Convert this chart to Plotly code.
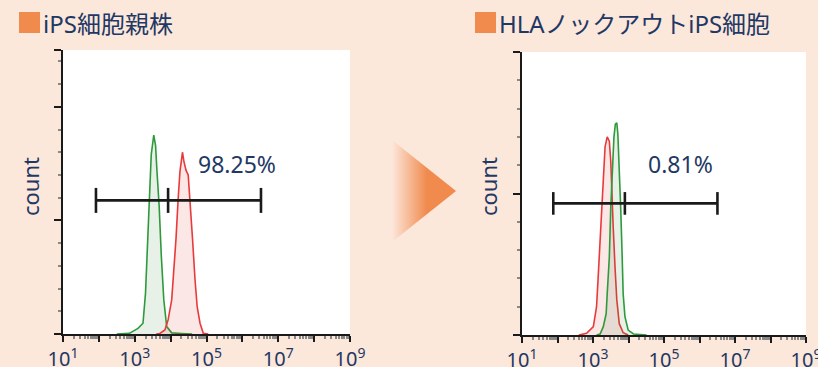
import plotly.graph_objects as go

# --- data (x as log10 of intensity, y as count) ---
left_green_log = [2.50, 2.85, 3.09, 3.23, 3.30, 3.32, 3.37, 3.42, 3.46, 3.53, 3.58, 3.62, 3.68, 3.74, 3.81, 3.89, 4.03, 4.30, 4.60]
left_green_cnt = [0.0, 0.6, 5.0, 9.5, 36, 51, 84, 128, 158, 175, 166, 143, 113, 69, 30, 6.5, 1.0, 0.5, 0.0]
left_red_log = [3.60, 3.70, 3.84, 3.93, 4.03, 4.09, 4.15, 4.21, 4.26, 4.31, 4.33, 4.37, 4.43, 4.49, 4.54, 4.61, 4.68, 4.74, 4.82, 4.91, 5.05]
left_red_cnt = [0.0, 0.5, 3.6, 12.4, 30, 54, 84, 119, 143, 155, 160, 152, 144, 140, 119, 84, 48, 24, 9.5, 0.6, 0.0]

right_red_log = [2.60, 2.82, 3.01, 3.10, 3.15, 3.20, 3.25, 3.29, 3.34, 3.40, 3.46, 3.50, 3.54, 3.57, 3.62, 3.67, 3.74, 3.85, 3.99]
right_red_cnt = [0.0, 1.2, 5.9, 20, 43, 67, 95, 118, 133, 140, 137, 123, 102, 76, 48, 25, 8, 1.6, 0.0]
right_green_log = [3.10, 3.20, 3.29, 3.37, 3.40, 3.46, 3.50, 3.55, 3.59, 3.63, 3.67, 3.70, 3.74, 3.78, 3.82, 3.85, 3.90, 3.99, 4.14, 4.51]
right_green_cnt = [0.0, 0.6, 5.9, 15, 29, 55, 90, 118, 140, 149, 150, 142, 118, 90, 57, 29, 13, 3.5, 0.7, 0.0]

# gate: left end, split, right end (intensity), bar level, cap half height
left_gate_x = [83, 8500, 3.3e6]
left_gate_y = 117.6
left_gate_cap = 11
left_pct = "98.25%"
right_gate_x = [76, 7900, 3.2e6]
right_gate_y = 93
right_gate_cap = 8
right_pct = "0.81%"

titles = ["iPS細胞親株", "HLAノックアウトiPS細胞"]
tick_vals = [10 ** k for k in range(1, 10)]
tick_text = ["10<sup>%d</sup>" % k if k % 2 else "" for k in range(1, 10)]
minor_vals = [m * 10 ** k for k in range(1, 9) for m in range(2, 10)]

NAVY = "#1f3864"
ORANGE = "#f08a4d"
BG = "#fce7db"
GREEN = "#2e9a3c"
RED = "#e83a3a"
FONT = "Noto Sans, Noto Sans CJK JP, sans-serif"

fig = go.Figure()


def hist(xlog, cnt, color, fill, xa, ya):
    fig.add_trace(go.Scatter(
        x=[10 ** v for v in xlog], y=cnt, mode="lines",
        line=dict(color=color, width=1.6), fill="tozeroy", fillcolor=fill,
        xaxis=xa, yaxis=ya, showlegend=False, hoverinfo="skip"))


def gate(gx, gy, cap, xa, ya):
    xs, ys = [gx[0], gx[2], None], [gy, gy, None]
    for x in gx:
        xs += [x, x, None]
        ys += [gy - cap, gy + cap, None]
    fig.add_trace(go.Scatter(
        x=xs, y=ys, mode="lines", line=dict(color="#1a1a1a", width=2.6),
        xaxis=xa, yaxis=ya, showlegend=False, hoverinfo="skip"))


hist(left_green_log, left_green_cnt, GREEN, "rgba(46,130,50,0.11)", "x", "y")
hist(left_red_log, left_red_cnt, RED, "rgba(232,58,58,0.12)", "x", "y")
gate(left_gate_x, left_gate_y, left_gate_cap, "x", "y")

hist(right_red_log, right_red_cnt, RED, "rgba(232,58,58,0.12)", "x2", "y2")
hist(right_green_log, right_green_cnt, GREEN, "rgba(46,130,50,0.11)", "x2", "y2")
gate(right_gate_x, right_gate_y, right_gate_cap, "x2", "y2")

# arrow between the panels
fig.add_trace(go.Scatter(
    x=[0, 1, 0, 0], y=[0, 0.5, 1, 0], mode="lines", fill="toself",
    line=dict(width=0, color="rgba(0,0,0,0)"),
    fillgradient=dict(type="horizontal",
                      colorscale=[[0, BG], [0.55, ORANGE], [1, ORANGE]]),
    xaxis="x3", yaxis="y3", showlegend=False, hoverinfo="skip"))

xcommon = dict(type="log", range=[1, 9], showgrid=False, zeroline=False,
               showline=True, linecolor="#1a1a1a", linewidth=2, automargin=False,
               tickmode="array", tickvals=tick_vals, ticktext=tick_text,
               ticks="outside", ticklen=6, tickwidth=1.5, tickcolor="#1a1a1a",
               ticklabeloverflow="allow",
               minor=dict(ticks="outside", ticklen=3, tickcolor="#888",
                          tickmode="array", tickvals=minor_vals),
               tickfont=dict(family=FONT, size=20, color=NAVY), fixedrange=True)
ycommon = dict(showgrid=False, zeroline=False, showline=True, linecolor="#1a1a1a",
               linewidth=2, showticklabels=False, ticks="outside", ticklen=7,
               tickwidth=1.5, tickcolor="#1a1a1a", automargin=False,
               minor=dict(ticks="outside", ticklen=3, tickcolor="#888", dtick=20),
               fixedrange=True)

fig.update_layout(
    width=818, height=367, margin=dict(l=0, r=0, t=0, b=0),
    paper_bgcolor=BG, plot_bgcolor=BG,
    xaxis=dict(domain=[63 / 818, 350 / 818], anchor="y", **xcommon),
    yaxis=dict(domain=[33 / 367, 317 / 367], anchor="x", range=[0, 250],
               tickmode="array", tickvals=[0, 100, 200, 250], **ycommon),
    xaxis2=dict(domain=[522 / 818, 806 / 818], anchor="y2", **xcommon),
    yaxis2=dict(domain=[32 / 367, 315 / 367], anchor="x2", range=[0, 200],
                dtick=100, **ycommon),
    xaxis3=dict(domain=[392 / 818, 456 / 818], anchor="y3", range=[0, 1], visible=False),
    yaxis3=dict(domain=[125 / 367, 227 / 367], anchor="x3", range=[0, 1], visible=False),
    showlegend=False,
)

# white plot areas for the two histogram panels
for xa, ya in [("x", "y"), ("x2", "y2")]:
    fig.add_shape(type="rect", xref=xa + " domain", yref=ya + " domain",
                  x0=0, x1=1, y0=0, y1=1, fillcolor="white",
                  line=dict(width=0), layer="below")

# panel titles with orange squares
for x0, title in zip([19, 475], titles):
    fig.add_shape(type="rect", xref="paper", yref="paper",
                  x0=x0 / 818, x1=(x0 + 21) / 818, y0=(367 - 33) / 367, y1=(367 - 12) / 367,
                  fillcolor=ORANGE, line=dict(width=0), layer="above")
    fig.add_annotation(x=(x0 + 22) / 818, y=(367 - 23) / 367, xref="paper", yref="paper",
                       text=title, showarrow=False, xanchor="left", yanchor="middle",
                       font=dict(family=FONT, size=24, color=NAVY))

# y titles
for xc in [30, 488]:
    fig.add_annotation(x=xc / 818, y=(367 - 187) / 367, xref="paper", yref="paper",
                       text="count", textangle=-90, showarrow=False,
                       xanchor="center", yanchor="middle",
                       font=dict(family=FONT, size=22, color=NAVY))

# percentages
fig.add_annotation(x=236.7 / 818, y=(367 - 164) / 367, xref="paper", yref="paper",
                   text=left_pct, showarrow=False, xanchor="center", yanchor="middle",
                   font=dict(family=FONT, size=23, color=NAVY))
fig.add_annotation(x=680 / 818, y=(367 - 164) / 367, xref="paper", yref="paper",
                   text=right_pct, showarrow=False, xanchor="center", yanchor="middle",
                   font=dict(family=FONT, size=23, color=NAVY))

# the page's default body margin would shift the figure by 8px
fig.write_html("out.html", config={"displayModeBar": False},
               post_script="document.body.style.margin='0';")
